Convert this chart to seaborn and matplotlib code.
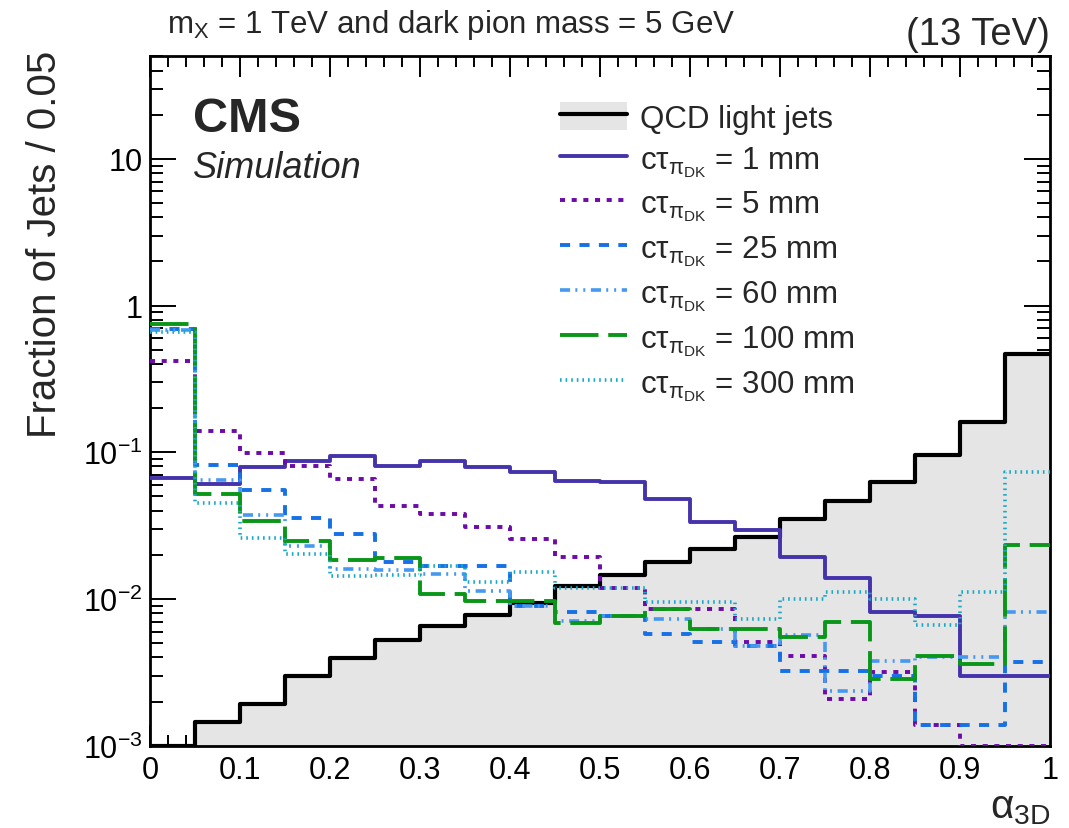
import numpy as np
import pandas as pd
import seaborn as sns
import matplotlib
matplotlib.use("Agg")
import matplotlib.pyplot as plt
from matplotlib.lines import Line2D
from matplotlib.patches import Patch
from matplotlib.ticker import FixedLocator, FixedFormatter, MultipleLocator, LogLocator, FuncFormatter, NullFormatter

# ---- binning: 20 bins of width 0.05 in alpha_3D ----
bin_edges = [round(i * 0.05, 2) for i in range(21)]

# ---- per-bin fractions of jets ----
qcd_light = [0.00100, 0.00144, 0.00192, 0.00297, 0.00394, 0.00528, 0.00652, 0.00778, 0.00940, 0.0123,
             0.0146, 0.0178, 0.0219, 0.0264, 0.0350, 0.0468, 0.0631, 0.0960, 0.160, 0.468]
ctau_1mm = [0.0666, 0.0608, 0.0790, 0.0870, 0.0950, 0.0810, 0.0877, 0.0798, 0.0730, 0.0640,
            0.0630, 0.0478, 0.0337, 0.0295, 0.0192, 0.0139, 0.0082, 0.0076, 0.0030, 0.0030]
ctau_5mm = [0.417, 0.140, 0.0985, 0.0800, 0.0658, 0.0433, 0.0378, 0.0308, 0.0257, 0.0194,
            0.0119, 0.0085, 0.0085, 0.0051, 0.0041, 0.00208, 0.0032, 0.00139, 0.00100, 0.00100]
ctau_25mm = [0.690, 0.0822, 0.0553, 0.0357, 0.0277, 0.0178, 0.0169, 0.0169, 0.0090, 0.0081,
             0.0077, 0.0058, 0.0051, 0.0048, 0.00325, 0.00325, 0.0030, 0.00139, 0.00139, 0.0037]
ctau_60mm = [0.680, 0.0647, 0.0374, 0.0231, 0.0160, 0.0158, 0.0148, 0.0113, 0.0090, 0.0071,
             0.0076, 0.0073, 0.0062, 0.0048, 0.0057, 0.00237, 0.0038, 0.0040, 0.0040, 0.0082]
ctau_100mm = [0.750, 0.0520, 0.0342, 0.0247, 0.0185, 0.0189, 0.0108, 0.0097, 0.0097, 0.0069,
              0.0077, 0.0086, 0.0062, 0.0062, 0.0055, 0.0070, 0.00285, 0.0041, 0.0036, 0.0233]
ctau_300mm = [0.664, 0.0452, 0.0260, 0.0203, 0.0143, 0.0145, 0.0169, 0.0130, 0.0152, 0.0119,
              0.0119, 0.0096, 0.0096, 0.0073, 0.0100, 0.0111, 0.0100, 0.0066, 0.0111, 0.0730]

ctau_values = ["1", "5", "25", "60", "100", "300"]
y_tick_values = [1e-3, 1e-2, 1e-1, 1, 10]
y_tick_labels = [r"$\mathregular{10^{-3}}$", r"$\mathregular{10^{-2}}$", r"$\mathregular{10^{-1}}$", "1", "10"]

# ---- styles ----
sns.set_style("ticks")
plt.rcParams["font.family"] = ["Liberation Sans", "DejaVu Sans"]
plt.rcParams["mathtext.fontset"] = "custom"
plt.rcParams["mathtext.rm"] = "Liberation Sans"
plt.rcParams["mathtext.it"] = "Liberation Sans:italic"
plt.rcParams["mathtext.bf"] = "Liberation Sans:bold"

QCD_FILL = "#e5e5e5"
signal_styles = [
    dict(color="#4433aa", lw=2.8, ls="-"),
    dict(color="#6c0ba8", lw=2.8, ls=(0, (1.3, 1.7))),
    dict(color="#1670e6", lw=2.8, ls=(0, (2.6, 2.4))),
    dict(color="#4698f0", lw=2.6, ls=(0, (2.8, 1.45, 0.55, 1.65, 0.55, 1.55))),
    dict(color="#0a9618", lw=2.8, ls=(0, (9.9, 2.5))),
    dict(color="#18a8c8", lw=2.6, ls=(0, (0.45, 1.1))),
]
signals = [ctau_1mm, ctau_5mm, ctau_25mm, ctau_60mm, ctau_100mm, ctau_300mm]

W, H = 1069, 829
fig = plt.figure(figsize=(W / 100, H / 100), dpi=100)
ax = fig.add_axes([150 / W, 1 - 746.7 / H, 900 / W, 689.4 / H])

centers = [round((bin_edges[i] + bin_edges[i + 1]) / 2, 3) for i in range(20)]


def hist_frame(values):
    return pd.DataFrame({"alpha": centers, "frac": values})


# background: filled grey area with black outline
qcd_df = hist_frame(qcd_light)
sns.histplot(data=qcd_df, x="alpha", weights="frac", bins=bin_edges, element="step", fill=True,
             color=QCD_FILL, alpha=1, linewidth=0, ax=ax, zorder=1)
sns.histplot(data=qcd_df, x="alpha", weights="frac", bins=bin_edges, element="step", fill=False,
             color="black", linewidth=3.0, ax=ax, zorder=3)

for vals, st in zip(signals, signal_styles):
    sns.histplot(data=hist_frame(vals), x="alpha", weights="frac", bins=bin_edges, element="step",
                 fill=False, color=st["color"], linewidth=st["lw"], linestyle=st["ls"], ax=ax, zorder=4)

ax.set_yscale("log")
ax.set_xlim(0, 1)
ax.set_ylim(1e-3, 50)

# ticks: inside, on all four sides
ax.xaxis.set_major_locator(MultipleLocator(0.1))
ax.xaxis.set_minor_locator(MultipleLocator(0.02))
ax.xaxis.set_major_formatter(FuncFormatter(lambda v, p: f"{round(v, 2):g}"))
ax.yaxis.set_major_locator(FixedLocator(y_tick_values))
ax.yaxis.set_major_formatter(FixedFormatter(y_tick_labels))
ax.yaxis.set_minor_locator(LogLocator(base=10, subs=np.arange(2, 10)))
ax.yaxis.set_minor_formatter(NullFormatter())

ax.tick_params(which="both", direction="in", top=True, right=True, width=1.4, colors="black")
ax.tick_params(axis="x", which="major", length=15, labelsize=22, pad=7)
ax.tick_params(axis="x", which="minor", length=8)
ax.tick_params(axis="y", which="major", length=19, labelsize=22, pad=5)
ax.tick_params(axis="y", which="minor", length=9.5)
for sp in ax.spines.values():
    sp.set_linewidth(2.0)
    sp.set_color("black")

ax.set_xlabel(r"$\mathrm{\alpha}_{\mathrm{3D}}$", fontsize=29, loc="right")
ax.xaxis.set_label_coords(1.0, -0.062)
ax.set_ylabel("Fraction of Jets / 0.05", fontsize=29, loc="top")
ax.yaxis.set_label_coords(-0.096, 1.01)

# header texts
fig.text(167 / W, 1 - 33 / H, r"$\mathrm{m}_{\mathrm{X}}$ = 1 TeV and dark pion mass = 5 GeV",
         fontsize=22.5, ha="left", va="baseline")
fig.text(1050 / W, 1 - 45 / H, "(13 TeV)", fontsize=27.5, ha="right", va="baseline")
fig.text(193 / W, 1 - 132 / H, "CMS", fontsize=35, fontweight="bold", ha="left", va="baseline")
fig.text(193 / W, 1 - 178 / H, "Simulation", fontsize=26, style="italic", ha="left", va="baseline")

# legend
handles = [(Patch(facecolor=QCD_FILL, edgecolor="none"), Line2D([], [], color="black", lw=3.0))]
labels = ["QCD light jets"]
for v, st in zip(ctau_values, signal_styles):
    handles.append(Line2D([], [], color=st["color"], lw=st["lw"], linestyle=st["ls"]))
    labels.append(r"$\mathrm{c\tau}_{\mathrm{\pi}_{\mathrm{DK}}}$" + f" = {v} mm")
fig.legend(handles, labels, loc="upper left", bbox_to_anchor=(560 / W, 1 - 103 / H),
           frameon=False, fontsize=22.5, handlelength=2.15, handleheight=1.0,
           handletextpad=0.42, labelspacing=0.305, borderpad=0, borderaxespad=0)

fig.savefig("out.png", dpi=100)
